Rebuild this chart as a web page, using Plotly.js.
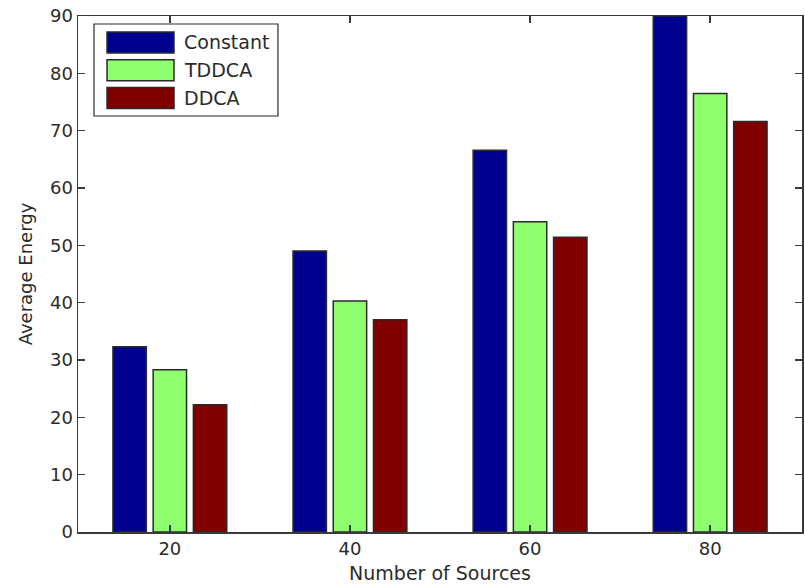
<!DOCTYPE html>
<html>
<head>
<meta charset="utf-8">
<script src="https://cdn.plot.ly/plotly-3.0.1.min.js"></script>
<style>
  html, body { margin: 0; padding: 0; background: #ffffff; }
  #chart { width: 805px; height: 585px; }
</style>
</head>
<body>
<div id="chart"></div>
<script>
// Average energy per scheme for each number of sources
const sources = [20, 40, 60, 80];
const seriesNames = ['Constant', 'TDDCA', 'DDCA'];
const constantEnergy = [32.3, 49.0, 66.6, 90.0];
const tddcaEnergy = [28.3, 40.3, 54.1, 76.5];
const ddcaEnergy = [22.2, 37.0, 51.4, 71.6];
const seriesColors = ['#00008f', '#8fff70', '#800000'];
const yTicks = [0, 10, 20, 30, 40, 50, 60, 70, 80, 90];

const seriesValues = [constantEnergy, tddcaEnergy, ddcaEnergy];
const textColor = '#2b2b2b';
const fontFamily = 'DejaVu Sans, Liberation Sans, Arial, sans-serif';

const traces = seriesNames.map((name, i) => ({
  type: 'bar',
  name: name,
  x: sources,
  y: seriesValues[i],
  marker: { color: seriesColors[i], line: { color: '#2a2a2a', width: 1.5 } },
  hoverinfo: 'x+y+name'
}));

// Boxed legend with wide swatches, laid out in paper coordinates
const legendBox = { x0: 0.0221, x1: 0.2762, y0: 0.8062, y1: 0.9845 };
const swatchX0 = 0.0401, swatchX1 = 0.1326, textX = 0.1436;
const rowTop = 0.9690, rowPitch = 0.0537, swatchH = 0.0407;

const shapes = [{
  type: 'rect', xref: 'paper', yref: 'paper',
  x0: legendBox.x0, x1: legendBox.x1, y0: legendBox.y0, y1: legendBox.y1,
  line: { color: '#2a2a2a', width: 1.2 }, fillcolor: '#ffffff', layer: 'above'
}];
const annotations = [];
seriesNames.forEach((name, i) => {
  const top = rowTop - i * rowPitch;
  shapes.push({
    type: 'rect', xref: 'paper', yref: 'paper',
    x0: swatchX0, x1: swatchX1, y0: top - swatchH, y1: top,
    line: { color: '#2a2a2a', width: 1.5 }, fillcolor: seriesColors[i], layer: 'above'
  });
  annotations.push({
    xref: 'paper', yref: 'paper', x: textX, y: top - swatchH / 2,
    xanchor: 'left', yanchor: 'middle', showarrow: false,
    text: name, font: { family: fontFamily, size: 19, color: textColor }
  });
});

const layout = {
  width: 805,
  height: 585,
  margin: { l: 78, r: 3, t: 16, b: 53 },
  paper_bgcolor: '#ffffff',
  plot_bgcolor: '#ffffff',
  barmode: 'group',
  bargap: 0.33,
  bargroupgap: 0.17,
  showlegend: false,
  font: { family: fontFamily, size: 18, color: textColor },
  xaxis: {
    range: [9.8, 90.2],
    tickmode: 'array',
    tickvals: sources,
    ticktext: sources.map(String),
    ticks: 'inside',
    ticklen: 7,
    tickwidth: 1.5,
    tickcolor: '#3a3a3a',
    showline: true,
    linecolor: '#3a3a3a',
    linewidth: 1.5,
    mirror: 'allticks',
    showgrid: false,
    zeroline: false,
    tickfont: { family: fontFamily, size: 18, color: textColor },
    title: { text: 'Number of Sources', font: { family: fontFamily, size: 19, color: textColor }, standoff: 8 }
  },
  yaxis: {
    range: [0, 90],
    tickmode: 'array',
    tickvals: yTicks,
    ticks: 'inside',
    ticklen: 7,
    tickwidth: 1.5,
    tickcolor: '#3a3a3a',
    showline: true,
    linecolor: '#3a3a3a',
    linewidth: 1.5,
    mirror: 'allticks',
    showgrid: false,
    zeroline: false,
    tickfont: { family: fontFamily, size: 18, color: textColor },
    title: { text: 'Average Energy', font: { family: fontFamily, size: 18, color: textColor } }
  },
  shapes: shapes,
  annotations: annotations
};

Plotly.newPlot('chart', traces, layout, { displayModeBar: false, staticPlot: true });
</script>
</body>
</html>
